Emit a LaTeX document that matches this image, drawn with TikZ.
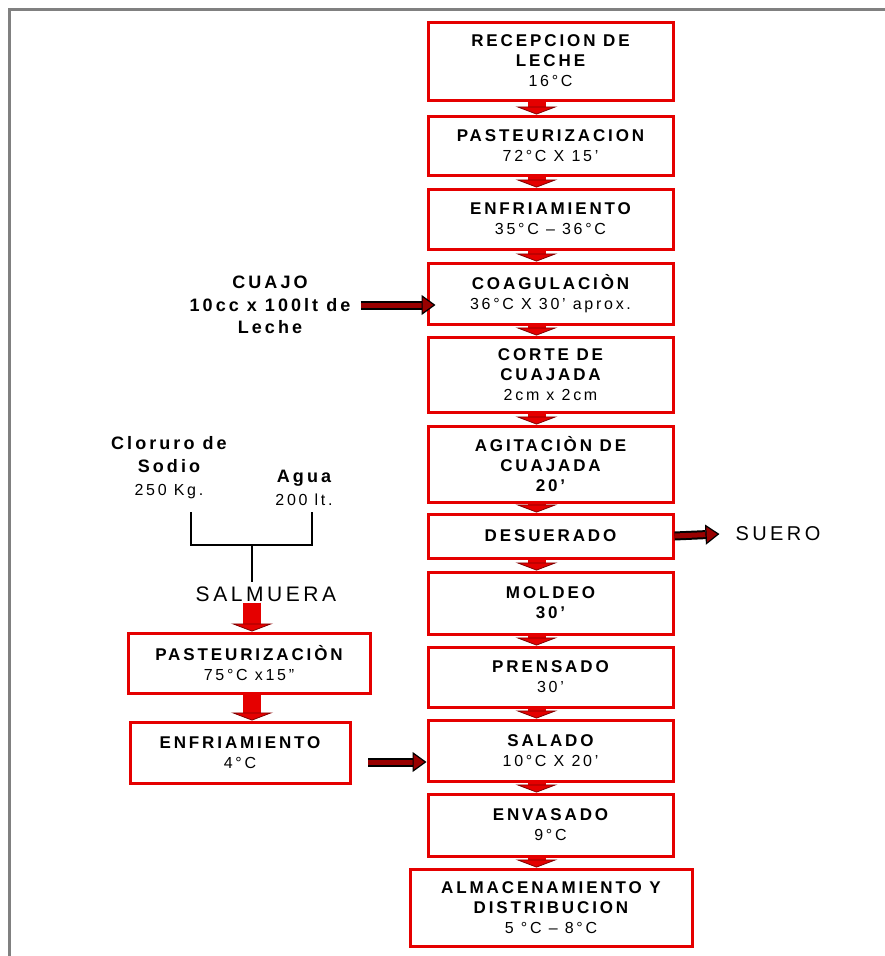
\documentclass[tikz,border=0pt]{standalone}
\usepackage{fontspec}
\setmainfont{Liberation Sans}[LetterSpace=17]
\usetikzlibrary{arrows.meta}
\newcommand{\titulo}[1]{{\fontsize{17}{20}\selectfont\bfseries #1}}
\tikzset{
  etapa/.style={draw=red!90!black, line width=3pt, minimum width=245pt, align=center, inner sep=2pt, font=\fontsize{16}{20}\selectfont},
  bajada/.style={line width=18pt, red!90!black, -{Triangle[width=42pt,length=8pt,line width=0.8pt,color=red!50!black,fill=red!90!black]}},
  lateral/.style={draw=black, line width=2pt, double=red!60!black, double distance=5pt, -{Triangle[width=20pt,length=14pt,line width=1.2pt,color=black,fill=red!60!black]}},
  texto/.style={align=center, inner sep=1pt, font=\fontsize{16}{23}\selectfont},
  corchete/.style={line width=2.5pt, black}
}

\begin{document}
\begin{tikzpicture}[x=1pt,y=-1pt]
			%%%%% START %%%%%
			\useasboundingbox (0,0) rectangle (885,956);
			\draw[line width=3pt, black!50] (885,9.5) -- (9.5,9.5) -- (9.5,956);
			
			% columna principal
			\node[etapa, minimum height=78pt] (recepcion) at (550.5,61) {\titulo{RECEPCION DE}\\\titulo{LECHE}\\16°C};
			\node[etapa, minimum height=59pt] (pasteur) at (550.5,145.5) {\titulo{PASTEURIZACION}\\72°C X 15'};
			\node[etapa, minimum height=60pt] (enfria) at (550.5,219) {\titulo{ENFRIAMIENTO}\\35°C -- 36°C};
			\node[etapa, minimum height=61pt] (coagula) at (550.5,293.5) {\titulo{COAGULACIÒN}\\36°C X 30' aprox.};
			\node[etapa, minimum height=75pt] (corte) at (550.5,374.5) {\titulo{CORTE DE}\\\titulo{CUAJADA}\\2cm x 2cm};
			\node[etapa, minimum height=76pt] (agita) at (550.5,464) {\titulo{AGITACIÒN DE}\\\titulo{CUAJADA}\\\titulo{20'}};
			\node[etapa, minimum height=44pt] (desuerado) at (550.5,536) {\titulo{DESUERADO}};
			\node[etapa, minimum height=62pt] (moldeo) at (550.5,603) {\titulo{MOLDEO}\\\titulo{30'}};
			\node[etapa, minimum height=60pt] (prensado) at (550.5,677) {\titulo{PRENSADO}\\30'};
			\node[etapa, minimum height=61pt] (salado) at (550.5,750.5) {\titulo{SALADO}\\10°C X 20'};
			\node[etapa, minimum height=62pt] (envasado) at (550.5,825) {\titulo{ENVASADO}\\9°C};
			\node[etapa, minimum width=282pt, minimum height=77pt] (almacen) at (551,907.5) {\titulo{ALMACENAMIENTO Y}\\\titulo{DISTRIBUCION}\\5 °C -- 8°C};
			
			\draw[bajada] ([xshift=-14pt,yshift=2pt]recepcion.south) -- ([xshift=-14pt]pasteur.north);
			\draw[bajada] ([xshift=-14pt,yshift=2pt]pasteur.south) -- ([xshift=-14pt]enfria.north);
			\draw[bajada] ([xshift=-14pt,yshift=2pt]enfria.south) -- ([xshift=-14pt]coagula.north);
			\draw[bajada] ([xshift=-14pt,yshift=2pt]coagula.south) -- ([xshift=-14pt]corte.north);
			\draw[bajada] ([xshift=-14pt,yshift=2pt]corte.south) -- ([xshift=-14pt]agita.north);
			\draw[bajada] ([xshift=-14pt,yshift=2pt]agita.south) -- ([xshift=-14pt]desuerado.north);
			\draw[bajada] ([xshift=-14pt,yshift=2pt]desuerado.south) -- ([xshift=-14pt]moldeo.north);
			\draw[bajada] ([xshift=-14pt,yshift=2pt]moldeo.south) -- ([xshift=-14pt]prensado.north);
			\draw[bajada] ([xshift=-14pt,yshift=2pt]prensado.south) -- ([xshift=-14pt]salado.north);
			\draw[bajada] ([xshift=-14pt,yshift=2pt]salado.south) -- ([xshift=-14pt]envasado.north);
			\draw[bajada] ([xshift=-14pt,yshift=2pt]envasado.south) -- ([xshift=-14pt]envasado.south |- almacen.north);
			
			% cuajo
			\node[texto, font=\fontsize{18}{22.5}\selectfont\bfseries] (cuajo) at (270,305) {CUAJO\\10cc x 100lt de\\Leche};
			\draw[lateral] ([xshift=9pt]cuajo.east) -- ([xshift=9pt]cuajo.east -| coagula.west);
			
			% suero
			\node[texto, font=\fontsize{20}{24}\selectfont] (suero) at (778,534) {SUERO};
			\draw[lateral] (desuerado.east) -- ([xshift=-15pt]suero.west);
			
			% salmuera
			\node[texto, anchor=west] (cloruro) at (110,468) {{\fontsize{18}{23.5}\selectfont\bfseries Cloruro de}\\{\fontsize{18}{23.5}\selectfont\bfseries Sodio}\\250 Kg.};
			\node[texto] (agua) at (304,487.5) {{\fontsize{18}{23}\selectfont\bfseries Agua}\\200 lt.};
			\node[texto, font=\fontsize{21}{24}\selectfont] (salmuera) at (266,594) {SALMUERA};
			
			\coordinate (brizq) at (191,512);
			\coordinate (brder) at (312,512);
			\coordinate (brmedio) at (252,545);
			\draw[corchete] (brizq) -- (brizq |- brmedio) -- (brder |- brmedio) -- (brder);
			\draw[corchete] (brmedio) -- ([yshift=3pt]brmedio |- salmuera.north);
			
			\node[etapa, minimum width=242pt, minimum height=60pt] (pasteursal) at (249,663) {\titulo{PASTEURIZACIÒN}\\75°C x15"};
			\node[etapa, minimum width=220pt, minimum height=61pt] (enfriasal) at (240,752.5) {\titulo{ENFRIAMIENTO}\\4°C};
			
			\draw[bajada] ([xshift=-14pt]salmuera.south) -- ([xshift=-14pt]salmuera.south |- pasteursal.north);
			\draw[bajada] ([xshift=3pt,yshift=2pt]pasteursal.south) -- ([xshift=3pt]pasteursal.south |- enfriasal.north);
			
			\coordinate (salidasal) at (368,762);
			\draw[lateral] (salidasal) -- (salidasal -| salado.west);
			
			%%%%% END %%%%%
\end{tikzpicture}
\end{document}
